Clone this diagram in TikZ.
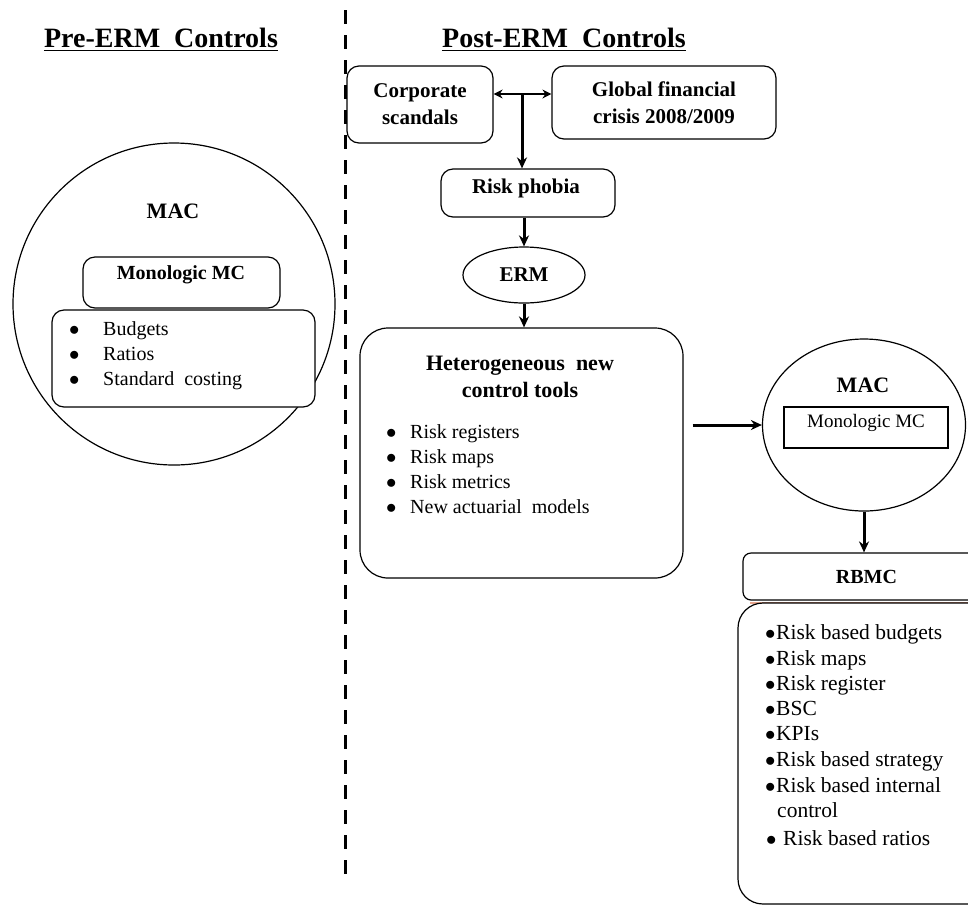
\documentclass[tikz,border=0pt]{standalone}
\usepackage{fontspec}
\setmainfont{Liberation Serif}
\usetikzlibrary{shapes.geometric,arrows.meta}

\begin{document}
\begin{tikzpicture}[x=1pt, y=-1pt,
  box/.style={draw, line width=1.2pt, rounded corners=12pt, fill=white, inner sep=0pt},
  lbl/.style={font=\fontsize{21}{27}\selectfont\bfseries, align=center, inner sep=0pt},
  headline/.style={font=\fontsize{28}{32}\selectfont\bfseries, anchor=base, inner sep=0pt},
  itm/.style={font=\fontsize{20}{25}\selectfont, anchor=base west, inner sep=0pt},
  flow/.style={line width=3pt, -{Stealth[length=11pt, width=10pt]}},
]
  \useasboundingbox (0,0) rectangle (968,906);
  \clip (0,0) rectangle (968,906);

  \draw[line width=3pt, dash pattern=on 14pt off 11pt] (345,10) -- (345,884);

  % before ERM
  \node[headline] (pretitle) at (161,47) {Pre-ERM\ \ Controls};
  \draw[line width=1.5pt] ([yshift=-3pt]pretitle.south west) -- ([yshift=-3pt]pretitle.south east);
  \node[circle, draw, line width=1.2pt, minimum size=322pt, inner sep=0pt] (macL) at (174,304) {};
  \node[lbl, anchor=base, font=\fontsize{22}{26}\selectfont\bfseries] (macLtxt) at (173,218) {MAC};
  \node[box, minimum width=197pt, minimum height=51pt] (monoL) at (181.5,282.5) {};
  \node[lbl, anchor=base, font=\fontsize{20}{24}\selectfont\bfseries] (monoLtxt) at (181,279) {Monologic\ MC};
  \node[box, minimum width=263pt, minimum height=97pt] (listL) at (183.5,358.5) {};
  \foreach \t [count=\i] in {Budgets, Ratios, Standard\ \ costing}
    \node[itm] (pre\i) at (69,310+25*\i) {\makebox[34pt][l]{$\bullet$}\t};

  % after ERM
  \node[headline] (posttitle) at (564,47) {Post-ERM\ \ Controls};
  \draw[line width=1.5pt] ([yshift=-3pt]posttitle.south west) -- ([yshift=-3pt]posttitle.south east);
  \node[box, lbl, minimum width=146pt, minimum height=77pt] (corp) at (420,104.5) {Corporate\\scandals};
  \node[box, lbl, minimum width=224pt, minimum height=73pt] (glob) at (664,102.5) {Global financial\\crisis 2008/2009};
  \node[box, minimum width=174pt, minimum height=48pt] (phobia) at (528,193) {};
  \node[lbl, anchor=base] (phobiatxt) at (526,193) {Risk phobia};
  \coordinate (split) at (522,94);
  \draw[line width=2.6pt, {Stealth[length=9pt, width=9pt]}-{Stealth[length=9pt, width=9pt]}]
    (corp.east |- split) -- (glob.west |- split);
  \draw[flow] (split) -- (split |- phobia.north);

  \node[ellipse, draw, line width=1.2pt, minimum width=122pt, minimum height=56pt, lbl] (erm) at (524,275) {ERM};
  \draw[flow] (phobia.south -| erm.north) -- (erm.north);

  \node[box, rounded corners=28pt, minimum width=323pt, minimum height=250pt] (hetero) at (521.5,453) {};
  \node[lbl, font=\fontsize{22}{27}\selectfont\bfseries] (heterotxt) at (520,377) {Heterogeneous\ \ new\\control tools};
  \draw[flow] (erm.south) -- (erm.south |- hetero.north);
  \foreach \t [count=\i] in {Risk registers, Risk maps, Risk metrics, New actuarial\ \ models}
    \node[itm] (tool\i) at (386,413+25*\i) {\makebox[24pt][l]{$\bullet$}\t};

  \node[ellipse, draw, line width=1.2pt, minimum width=203pt, minimum height=172pt, inner sep=0pt] (macR) at (864,425) {};
  \node[lbl, anchor=base, font=\fontsize{22}{26}\selectfont\bfseries] (macRtxt) at (863,392) {MAC};
  \node[draw, line width=1.2pt, fill=white, minimum width=164pt, minimum height=41pt, inner sep=0pt] (monoR) at (866,427.5) {};
  \node[anchor=base, inner sep=0pt, font=\fontsize{19}{23}\selectfont] (monoRtxt) at (866,427) {Monologic MC};
  \draw[flow, shorten <=9pt] (hetero.east |- macR.west) -- (macR.west);

  \node[box, lbl, rounded corners=8pt, minimum width=247pt, minimum height=47pt, font=\fontsize{20}{24}\selectfont\bfseries] (rbmc) at (866.5,576.5) {RBMC};
  \draw[line width=2pt, brown!70!red!55] ([xshift=8pt, yshift=-2pt]rbmc.south west) -- ([yshift=-2pt]rbmc.south east);
  \draw[flow] (macR.south) -- (macR.south |- rbmc.north);

  \node[box, rounded corners=25pt, minimum width=254pt, minimum height=301pt] (listR) at (865,753.5) {};
  \foreach \t/\y [count=\i] in {Risk based budgets/639, Risk maps/665, Risk register/690, BSC/715,
      KPIs/740, Risk based strategy/766, Risk based internal/792}
    \node[itm, font=\fontsize{21.5}{25}\selectfont] (rb\i) at (765,\y) {\makebox[11pt][l]{$\bullet$}\t};
  \node[itm, font=\fontsize{21.5}{25}\selectfont] (rb8) at (777,817) {control};
  \node[itm, font=\fontsize{21.5}{25}\selectfont] (rb9) at (766,845) {\makebox[17pt][l]{$\bullet$}Risk based ratios};
\end{tikzpicture}
\end{document}
